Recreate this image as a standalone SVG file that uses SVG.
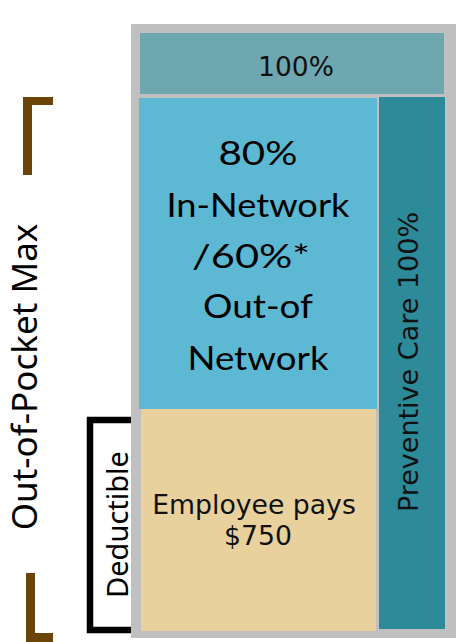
<svg xmlns="http://www.w3.org/2000/svg" width="462" height="642" viewBox="0 0 462 642">
<style>
.v{font-family:"DejaVu Sans",Verdana,sans-serif;fill:#111}
.n{font-family:"Noto Sans","Open Sans",sans-serif;fill:#000}
.g{font-family:Lato,"Noto Sans",sans-serif;fill:#000;font-size:32px;text-anchor:middle}
.brown{fill:#6b4508}
</style>
<rect width="462" height="642" fill="#fff"/>
<g id="frame"><rect x="131" y="24" width="325" height="614" fill="#c0c0c0"/></g>
<g id="top100">
<rect x="140" y="33" width="304" height="61" fill="#6fa7b0"/>
<text class="v" x="296" y="76" font-size="26.5" text-anchor="middle">100%</text>
</g>
<g id="coinsurance">
<rect x="139" y="98" width="238" height="311" fill="#5cb8d3"/>
<text class="g" x="258" y="165" textLength="79" lengthAdjust="spacingAndGlyphs">80%</text>
<text class="g" x="258" y="217" textLength="183" lengthAdjust="spacingAndGlyphs">In-Network</text>
<text class="g" x="251" y="268" textLength="118" lengthAdjust="spacingAndGlyphs">/60%*</text>
<text class="g" x="258" y="318" textLength="110" lengthAdjust="spacingAndGlyphs">Out-of</text>
<text class="g" x="258" y="370" textLength="141" lengthAdjust="spacingAndGlyphs">Network</text>
</g>
<g id="deductibleBox">
<rect x="141" y="409" width="235" height="222" fill="#e8d19d"/>
<text class="v" x="254" y="514" font-size="26.7" text-anchor="middle">Employee pays</text>
<text class="v" x="258" y="545" font-size="26.7" text-anchor="middle">$750</text>
</g>
<g id="preventive">
<rect x="379" y="97" width="66" height="532" fill="#2d8a99"/>
<text class="v" transform="translate(418,362) rotate(-90)" font-size="27" text-anchor="middle">Preventive Care 100%</text>
</g>
<g id="oopLabel">
<rect class="brown" x="23" y="97" width="9" height="78"/>
<rect class="brown" x="23" y="97" width="30" height="8"/>
<rect class="brown" x="26" y="573" width="9" height="69"/>
<rect class="brown" x="26" y="633" width="27" height="9"/>
<text class="n" transform="translate(37,377) rotate(-90)" font-size="35" text-anchor="middle">Out-of-Pocket Max</text>
</g>
<g id="deductibleLabel">
<path d="M131,420 H90 V630 H131" fill="none" stroke="#000" stroke-width="6.5"/>
<text class="n" transform="translate(128,524.5) rotate(-90)" font-size="29" text-anchor="middle">Deductible</text>
</g>
</svg>
